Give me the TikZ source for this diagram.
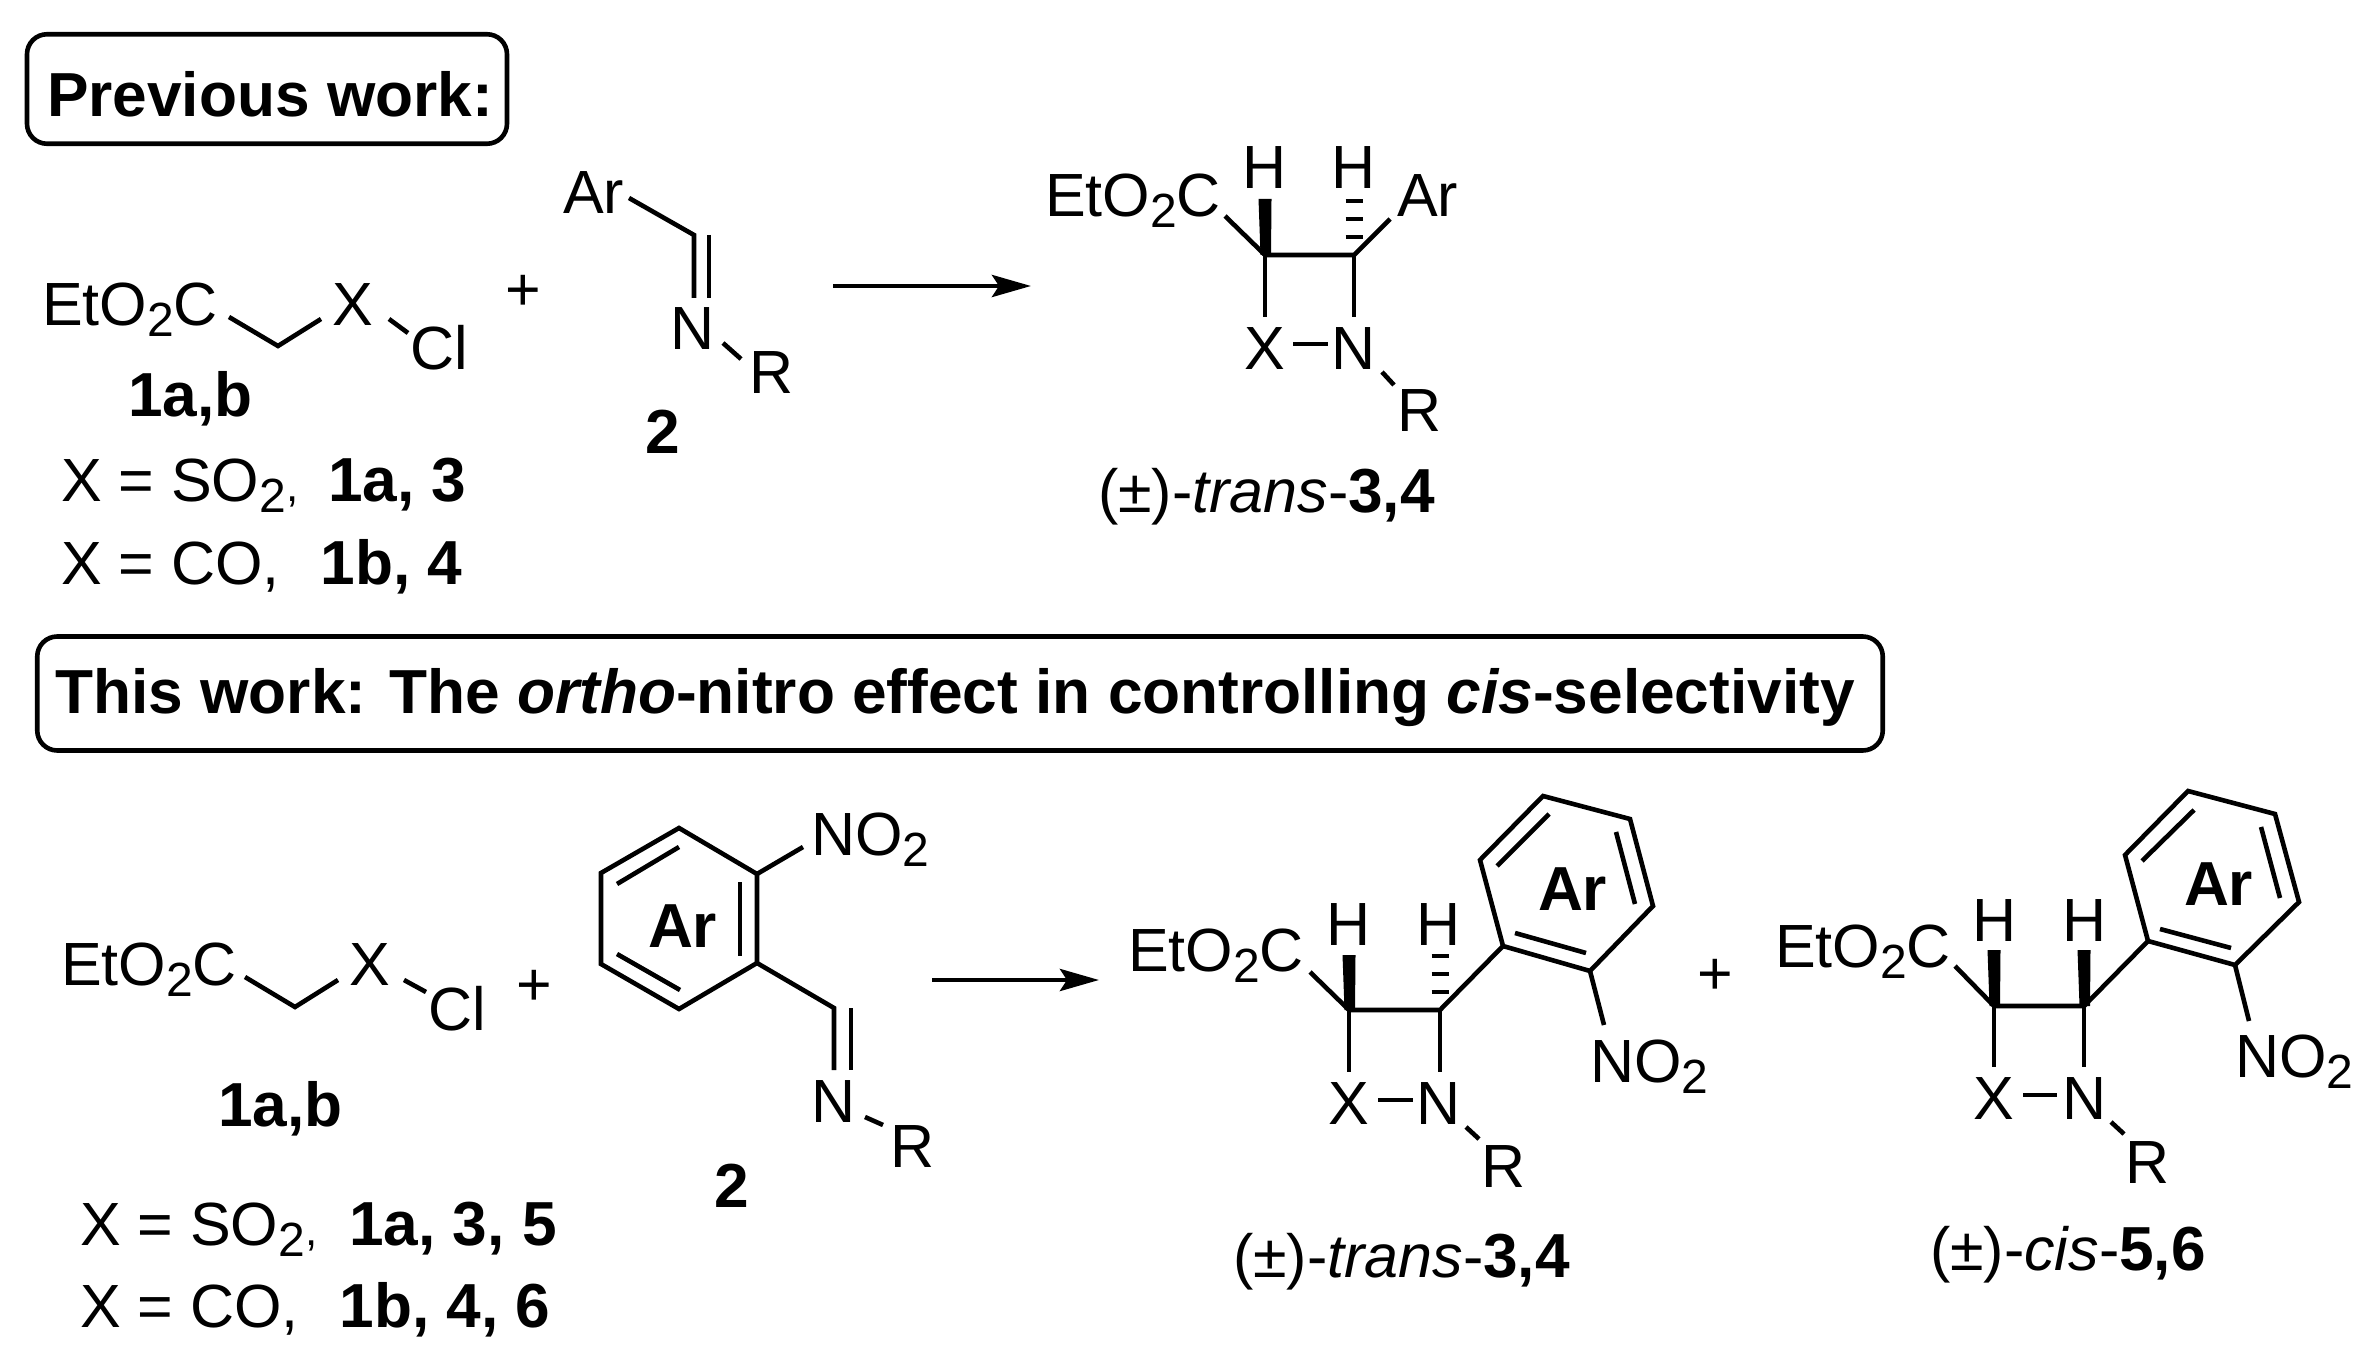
\documentclass[tikz,border=0pt]{standalone}
\usepackage{fontspec}
\setmainfont{Liberation Sans}
\usetikzlibrary{arrows.meta}
\newcommand{\fs}{\fontsize{30.5pt}{36pt}\selectfont}
\newcommand{\fsb}{\fontsize{31.1pt}{36pt}\selectfont\bfseries}
\newcommand{\bld}[1]{{\fsb #1}}
\newcommand{\subd}[1]{\raisebox{-5.5pt}{\fontsize{24pt}{26pt}\selectfont #1}}
\newcommand{\smc}{{\fontsize{22pt}{24pt}\selectfont ,}}
\newcommand{\wedgebond}[2]{\fill ([shift={(-6.5,-#2)}]#1) -- ([shift={(6.5,-#2)}]#1) -- ([shift={(6,0)}]#1) -- ([shift={(-4.5,0)}]#1) -- cycle;}
\newcommand{\hashbond}[1]{%
  \draw[hashbar] ([shift={(-8.5,-54)}]#1) -- ([shift={(8.5,-54)}]#1);
  \draw[hashbar] ([shift={(-8.5,-36)}]#1) -- ([shift={(8.5,-36)}]#1);
  \draw[hashbar] ([shift={(-8.5,-18)}]#1) -- ([shift={(8.5,-18)}]#1);}
\tikzset{
  every node/.style={font=\fs,inner sep=0pt,outer sep=0pt},
  lbl/.style={anchor=base west},
  cen/.style={anchor=base},
  bond/.style={line width=2.3pt,line join=miter},
  hashbar/.style={line width=2pt},
  rxn/.style={line width=2.4pt,-{Stealth[length=19.5pt,width=11pt,inset=3.5pt]}},
  workbox/.style={draw,line width=2.3pt,rounded corners=10pt,font=\fsb,anchor=center}
}
\begin{document}
\begin{tikzpicture}[x=0.5pt,y=-0.5pt]
\useasboundingbox (0,0) rectangle (2370,1347);
% ---------- headings
\node[workbox,minimum width=240pt,minimum height=54.75pt,text height=29pt,text depth=1.5pt] (prev) at (267,89) {\hspace*{3pt}Previous work:};
\node[workbox,minimum width=922.75pt,minimum height=57pt,text height=21pt,text depth=1.5pt] (this) at (960,693.5) {This work: The \textit{ortho}-nitro effect in controlling \textit{cis}-selectivity\hspace*{5pt}};
% ---------- previous work: chloride
\node[lbl] (pEst) at (42,326) {EtO\subd{2}C};
\node[cen] (pX) at (353,326) {X};
\node[lbl] (pCl) at (410,370) {Cl};
\node[lbl,font=\fsb] (p1ab) at (128,417) {1a,b};
\node[lbl] (pSO) at (61,502) {X = SO\subd{2}\smc{}\hspace{6.5pt} \bld{1a, 3}};
\node[lbl] (pCO) at (61,584) {X = CO,\ \ \hspace{3.5pt}\bld{1b, 4}};
\node[cen] (pPlus) at (523,311) {+};
\coordinate (pa) at (229,317); \coordinate (pb) at (278,346); \coordinate (pc) at (321,319);
\coordinate (pd) at (389,319); \coordinate (pe) at (408,333);
\draw[bond] (pa) -- (pb) -- (pc);
\draw[bond] (pd) -- (pe);
% imine 2
\node[lbl] (pAr) at (563,214) {Ar};
\node[cen] (pN) at (693,350) {N};
\node[lbl] (pR) at (749,394) {R};
\node[cen,font=\fsb] (p2) at (663,454) {2};
\coordinate (pf) at (629,198); \coordinate (pg) at (694,235); \coordinate (ph) at (694,298);
\coordinate (pg2) at (709,235); \coordinate (ph2) at (709,298);
\coordinate (pi) at (723,343); \coordinate (pj) at (741,359);
\draw[bond] (pf) -- (pg) -- (ph);
\draw[bond] (pg2) -- (ph2);
\draw[bond] (pi) -- (pj);
% arrow
\coordinate (pA1) at (833,286); \coordinate (pA2) at (1031,286);
\draw[rxn] (pA1) -- (pA2);
% product trans
\node[lbl] (qEst) at (1045,217) {EtO\subd{2}C};
\node[cen] (qH1) at (1265,189) {H};
\node[cen] (qH2) at (1354,189) {H};
\node[lbl] (qAr) at (1397,217) {Ar};
\node[cen] (qX) at (1265,370) {X};
\node[cen] (qN) at (1354,370) {N};
\node[lbl] (qR) at (1397,432) {R};
\node[lbl] (qLab) at (1098,512) {(±)-\textit{trans}-\bld{3,4}};
\coordinate (qc1) at (1265,255); \coordinate (qc2) at (1354,255);
\coordinate (qa) at (1225,216); \coordinate (qb) at (1390,219);
\coordinate (qd) at (1265,317); \coordinate (qe) at (1354,317);
\coordinate (qf) at (1293,344); \coordinate (qg) at (1328,344);
\coordinate (qh) at (1382,372); \coordinate (qi) at (1394,385);
\draw[bond] (qa) -- (qc1) -- (qc2) -- (qb);
\draw[bond] (qc1) -- (qd);
\draw[bond] (qc2) -- (qe);
\draw[bond] (qf) -- (qg);
\draw[bond] (qh) -- (qi);
\wedgebond{qc1}{56}
\hashbond{qc2}
% ---------- this work: chloride
\node[lbl] (rEst) at (61,985) {EtO\subd{2}C};
\node[cen] (rX) at (370,985) {X};
\node[lbl] (rCl) at (428,1030) {Cl};
\node[cen] (rPlus) at (534,1005) {+};
\node[lbl,font=\fsb] (r1ab) at (218,1126) {1a,b};
\node[lbl] (rSO) at (80,1245) {X = SO\subd{2}\smc{}\hspace{7.5pt} \bld{1a, 3, 5}};
\node[lbl] (rCO) at (80,1327) {X = CO,\ \ \hspace{3.5pt}\bld{1b, 4, 6}};
\coordinate (ra) at (245,977); \coordinate (rb) at (295,1007); \coordinate (rc) at (338,980);
\coordinate (rd) at (404,980); \coordinate (re) at (426,992);
\draw[bond] (ra) -- (rb) -- (rc);
\draw[bond] (rd) -- (re);
% ortho-nitro imine
\node[lbl] (sNO) at (811,855) {NO\subd{2}};
\node[lbl,font=\fsb] (sAr) at (648,947) {Ar};
\node[cen] (sN) at (834,1122) {N};
\node[lbl] (sR) at (890,1167) {R};
\node[cen,font=\fsb] (s2) at (732,1207) {2};
\coordinate (s1) at (679,828); \coordinate (s2v) at (601,873); \coordinate (s3) at (601,964);
\coordinate (s4) at (679,1009); \coordinate (s5) at (757,963); \coordinate (s6) at (757,874);
\draw[bond] (s1) -- (s2v) -- (s3) -- (s4) -- (s5) -- (s6) -- cycle;
\coordinate (si1) at (617,884); \coordinate (si2) at (679,847);
\coordinate (si3) at (617,954); \coordinate (si4) at (680,990);
\coordinate (si5) at (740,882); \coordinate (si6) at (740,956);
\draw[bond] (si1) -- (si2);
\draw[bond] (si3) -- (si4);
\draw[bond] (si5) -- (si6);
\coordinate (sa) at (803,847); \coordinate (sb) at (834,1008); \coordinate (sc) at (834,1070);
\coordinate (sb2) at (851,1008); \coordinate (sc2) at (851,1070);
\coordinate (sd) at (865,1117); \coordinate (se) at (883,1125);
\draw[bond] (s6) -- (sa);
\draw[bond] (s5) -- (sb) -- (sc);
\draw[bond] (sb2) -- (sc2);
\draw[bond] (sd) -- (se);
% arrow
\coordinate (sA1) at (932,980); \coordinate (sA2) at (1099,980);
\draw[rxn] (sA1) -- (sA2);
% product trans
\node[lbl] (tEst) at (1128,971) {EtO\subd{2}C};
\node[cen] (tH1) at (1349,945) {H};
\node[cen] (tH2) at (1439,945) {H};
\node[cen] (tX) at (1349,1124) {X};
\node[cen] (tN) at (1439,1124) {N};
\node[lbl] (tR) at (1481,1187) {R};
\node[lbl] (tNO) at (1590,1082) {NO\subd{2}};
\node[lbl,font=\fsb] (tAr) at (1538,910) {Ar};
\node[cen] (tPlus) at (1715,994) {+};
\node[lbl] (tLab) at (1233,1277) {(±)-\textit{trans}-\bld{3,4}};
\coordinate (tc1) at (1349,1010); \coordinate (tc2) at (1440,1010);
\coordinate (ta) at (1310,972); \coordinate (td) at (1349,1072); \coordinate (te) at (1440,1072);
\coordinate (tf) at (1378,1100); \coordinate (tg) at (1413,1100);
\coordinate (th) at (1466,1127); \coordinate (ti) at (1479,1139);
\coordinate (tv1) at (1503,946); \coordinate (tv2) at (1480,860); \coordinate (tv3) at (1543,796);
\coordinate (tv4) at (1630,819); \coordinate (tv5) at (1653,906); \coordinate (tv6) at (1590,971);
\coordinate (tn1) at (1497,866); \coordinate (tn2) at (1549,814);
\coordinate (tn3) at (1616,832); \coordinate (tn4) at (1635,904);
\coordinate (tn5) at (1515,933); \coordinate (tn6) at (1586,953);
\coordinate (tj) at (1604,1025);
\draw[bond] (ta) -- (tc1) -- (tc2) -- (tv1);
\draw[bond] (tc1) -- (td);
\draw[bond] (tc2) -- (te);
\draw[bond] (tf) -- (tg);
\draw[bond] (th) -- (ti);
\draw[bond] (tv1) -- (tv2) -- (tv3) -- (tv4) -- (tv5) -- (tv6) -- cycle;
\draw[bond] (tn1) -- (tn2);
\draw[bond] (tn3) -- (tn4);
\draw[bond] (tn5) -- (tn6);
\draw[bond] (tv6) -- (tj);
\wedgebond{tc1}{55}
\hashbond{tc2}
% product cis
\node[lbl] (uEst) at (1775,967) {EtO\subd{2}C};
\node[cen] (uH1) at (1994,941) {H};
\node[cen] (uH2) at (2084,941) {H};
\node[cen] (uX) at (1994,1119) {X};
\node[cen] (uN) at (2084,1119) {N};
\node[lbl] (uR) at (2125,1183) {R};
\node[lbl] (uNO) at (2235,1077) {NO\subd{2}};
\node[lbl,font=\fsb] (uAr) at (2184,905) {Ar};
\node[lbl] (uLab) at (1930,1270) {(±)-\textit{cis}-\bld{5,6}};
\coordinate (uc1) at (1994,1006); \coordinate (uc2) at (2084,1006);
\coordinate (ua) at (1955,966); \coordinate (ud) at (1994,1067); \coordinate (ue) at (2084,1067);
\coordinate (uf) at (2023,1095); \coordinate (ug) at (2057,1095);
\coordinate (uh) at (2111,1122); \coordinate (ui) at (2124,1134);
\coordinate (uv1) at (2148,941); \coordinate (uv2) at (2125,855); \coordinate (uv3) at (2188,791);
\coordinate (uv4) at (2275,814); \coordinate (uv5) at (2299,902); \coordinate (uv6) at (2235,965);
\coordinate (un1) at (2142,861); \coordinate (un2) at (2194,810);
\coordinate (un3) at (2261,827); \coordinate (un4) at (2280,898);
\coordinate (un5) at (2160,929); \coordinate (un6) at (2231,948);
\coordinate (uj) at (2249,1021);
\draw[bond] (ua) -- (uc1) -- (uc2) -- (uv1);
\draw[bond] (uc1) -- (ud);
\draw[bond] (uc2) -- (ue);
\draw[bond] (uf) -- (ug);
\draw[bond] (uh) -- (ui);
\draw[bond] (uv1) -- (uv2) -- (uv3) -- (uv4) -- (uv5) -- (uv6) -- cycle;
\draw[bond] (un1) -- (un2);
\draw[bond] (un3) -- (un4);
\draw[bond] (un5) -- (un6);
\draw[bond] (uv6) -- (uj);
\wedgebond{uc1}{56}
\wedgebond{uc2}{56}
\end{tikzpicture}
\end{document}
